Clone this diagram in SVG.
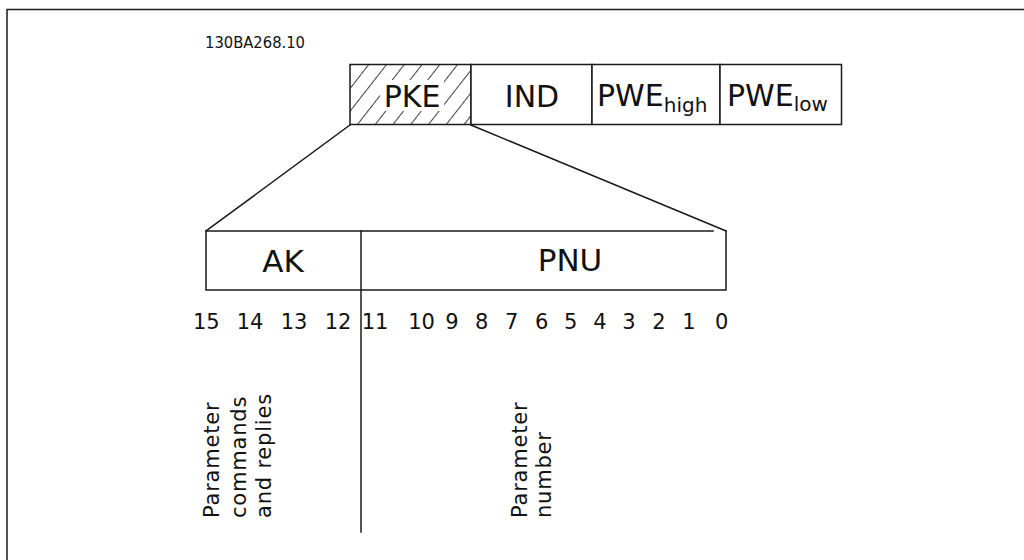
<svg xmlns="http://www.w3.org/2000/svg" width="1024" height="560" viewBox="0 0 1024 560">
<style>
.ln{stroke:#1a1a1a;stroke-width:1.5;fill:none;stroke-linecap:square}
.cell{stroke:#1a1a1a;stroke-width:1.5;fill:#fff}
.hatched{stroke:#1a1a1a;stroke-width:1.5;fill:url(#hatch)}
.t{font-family:"DejaVu Sans","Liberation Sans",sans-serif;fill:#111;text-anchor:middle}
.big{font-size:30px}
.sub{font-size:20px}
.num{font-size:21px}
.lab{font-size:21px;text-anchor:start;letter-spacing:0.8px}
</style>
<defs>
<pattern id="hatch" patternUnits="userSpaceOnUse" width="14" height="14" patternTransform="translate(350,65) rotate(38)">
<rect width="14" height="14" fill="#fff"/>
<line x1="0" y1="0" x2="0" y2="14" stroke="#111" stroke-width="1.6"/>
</pattern>
</defs>
<rect width="1024" height="560" fill="#fff"/>
<g id="frame">
<path class="ln" d="M7,560 V9.5 H1024" stroke-width="2"/>
</g>
<text class="t" x="255" y="48" font-size="15" textLength="100" lengthAdjust="spacingAndGlyphs">130BA268.10</text>
<g id="node-pke">
<rect class="hatched" x="350" y="64.5" width="121" height="60"/>
<rect x="380" y="80" width="64" height="31" fill="#fff"/>
<text class="t big" x="412" y="106.5">PKE</text>
</g>
<g id="node-ind">
<rect class="cell" x="471" y="64.5" width="121" height="60"/>
<text class="t big" x="532" y="106.5">IND</text>
</g>
<g id="node-pwehigh">
<rect class="cell" x="592" y="64.5" width="128" height="60"/>
<text class="t big" x="597" y="106" style="text-anchor:start">PWE<tspan class="sub" dy="6">high</tspan></text>
</g>
<g id="node-pwelow">
<rect class="cell" x="720" y="64.5" width="121.5" height="60"/>
<text class="t big" x="727" y="106" style="text-anchor:start">PWE<tspan class="sub" dy="5">low</tspan></text>
</g>
<g id="node-pke-detail">
<path class="ln" d="M713,231 H206 V290 H726 V231"/>
<text class="t" x="283" y="272" font-size="31">AK</text>
<text class="t" x="570" y="270.5" font-size="31">PNU</text>
</g>
<g id="connectors">
<line class="ln" x1="350" y1="125" x2="206" y2="231"/>
<line class="ln" x1="471" y1="125" x2="726" y2="231"/>
<line class="ln" x1="361" y1="231" x2="361" y2="532"/>
</g>
<g id="bits" class="t num">
<text x="206.3" y="329">15</text>
<text x="250" y="329">14</text>
<text x="294" y="329">13</text>
<text x="338" y="329">12</text>
<text x="375" y="329">11</text>
<text x="421.5" y="329">10</text>
<text x="452" y="329">9</text>
<text x="481.7" y="329">8</text>
<text x="511.7" y="329">7</text>
<text x="541.7" y="329">6</text>
<text x="570.8" y="329">5</text>
<text x="600" y="329">4</text>
<text x="629" y="329">3</text>
<text x="659" y="329">2</text>
<text x="689" y="329">1</text>
<text x="721.7" y="329">0</text>
</g>
<g id="label-ak" class="t lab">
<text transform="translate(218.5,518) rotate(-90)">Parameter</text>
<text transform="translate(246,518) rotate(-90)">commands</text>
<text transform="translate(270.5,518) rotate(-90)">and  replies</text>
</g>
<g id="label-pnu" class="t lab">
<text transform="translate(526.7,518) rotate(-90)">Parameter</text>
<text transform="translate(551,518) rotate(-90)">number</text>
</g>
</svg>
